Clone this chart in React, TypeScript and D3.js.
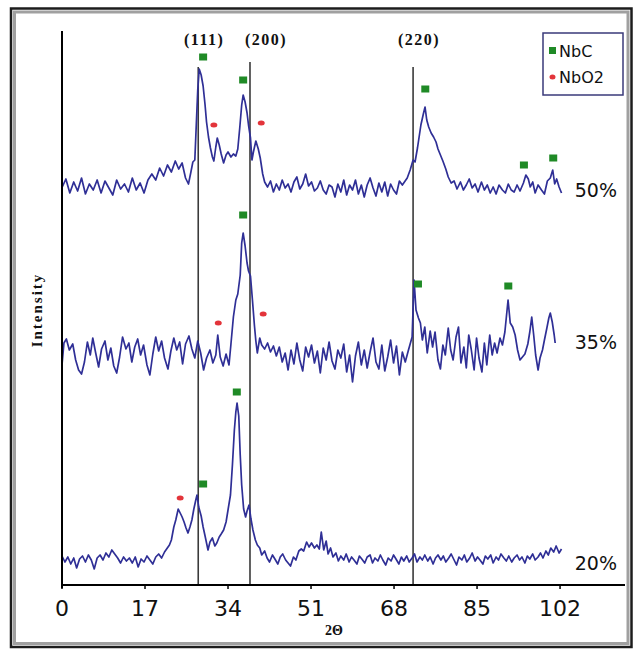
import React from "react";
import * as d3 from "d3";

const W = 640;
const H = 650;

const xTicks = [0, 17, 34, 51, 68, 85, 102];
const reflections = ["(111)", "(200)", "(220)"];
const reflectionX = [27.9, 38.5, 71.9];
const reflectionTop = [103.6, 104.6, 103.6];
const seriesLabels = ["50%", "35%", "20%"];
const labelLevel = [79, 48.6, 4.4];
const legendItems = ["NbC", "NbO2"];

const s50: [number, number][] = [
  [0,79.5],[0.8,81.2],[1.6,78.4],[2.4,80.6],[3.2,78.8],[4,81.4],[4.8,78.2],[5.6,80.2],[6.4,79],[7.2,81],
  [8,78.4],[8.8,80.8],[9.6,79.4],[10.4,78],[11.2,81],[12,79.2],[12.8,80.2],[13.6,78.6],[14.4,81.4],[15.2,79],
  [16,80.4],[16.8,78.4],[17.6,81],[18.4,82.2],[19.2,81],[20,83.4],[20.8,81.8],[21.6,84],[22.4,82.6],[23.2,84.8],
  [23.9,83.2],[24.6,84.4],[25.3,81.4],[25.9,80.2],[26.4,82.6],[26.8,84.6],[27.2,85],[27.5,92],[27.8,99],[28.1,103.2],
  [28.5,102],[28.9,99.8],[29.3,96],[29.6,92.6],[30,89.6],[30.4,87.4],[30.8,85.6],[31.1,84.8],[31.5,87.6],[31.8,89.4],
  [32.2,88],[32.6,86.2],[33.1,84.4],[33.6,86],[34,86.6],[34.6,85.6],[35.1,86.2],[35.6,85.8],[36,87.2],[36.4,91.4],
  [36.8,96],[37.1,98],[37.5,96.6],[37.9,94.4],[38.2,92],[38.6,89.4],[38.9,85],[39.2,86.6],[39.7,88.8],[40.2,87.2],
  [40.6,85.4],[41.1,82.2],[41.5,80.6],[42.1,79.6],
  [42.7,80.8],[43.3,78.6],[43.9,80.2],[44.5,79],[45.1,81],[45.7,79.4],[46.3,80.2],[46.9,78.6],[47.5,80.6],[48.1,81.6],
  [48.7,79.2],[49.3,80.2],[49.9,82.2],[50.5,79.8],[51.1,80.6],[51.7,78.8],[52.3,79.4],[52.9,80.8],[53.5,79],[54.1,78.2],
  [54.7,80],[55.3,79.6],[55.9,77.6],[56.5,80.2],[57.1,78.6],[57.7,81],[58.3,78],[58.9,80],[59.5,79],[60.1,81],
  [60.7,78.2],[61.3,80],[61.9,77.6],[62.5,80],[63.1,81.4],[63.7,79.4],[64.3,77.8],[64.9,80.4],[65.5,78.6],[66.1,80.6],
  [66.7,77.8],[67.3,80.2],[67.9,79],[68.5,78.2],[69.1,80.8],[69.7,80],
  [70.7,81.4],[71.3,83],[71.9,85],[72.3,84.6],[72.8,87.4],[73.5,92],[74,94.2],[74.35,95.6],[74.7,93],[75.1,91.6],
  [75.6,90.4],[76.1,89.6],[76.6,88.6],[77,87.2],[77.5,86],[78,84.8],[78.6,83.2],[79.1,81.6],[79.7,80.4],[80.3,80.8],
  [80.9,79.2],[81.6,80.6],[82.2,79],[82.8,80],[83.4,81.2],[84,79.4],[84.6,80.2],[85.2,78.6],[85.9,80.6],[86.5,79],
  [87.1,80],[87.7,78.4],[88.3,79.6],[88.9,78.2],[89.5,80],[90.2,79],[90.8,78.4],[91.4,80.2],[92,79],[92.6,78.6],
  [93.2,80],[93.8,78.8],[94.5,80.4],[95,82],[95.5,81.2],[95.9,79.6],[96.4,80.6],[96.9,78.4],[97.5,80],[98.2,79],
  [98.8,78.2],[99.4,80.8],[100,81.4],[100.5,83],[100.9,80.2],[101.3,81.2],[101.8,79.6],[102.3,78.4]
];

const s35: [number, number][] = [
  [0,44],[0.4,48.4],[0.9,49.2],[1.5,47],[2.2,48.2],[2.8,45],[3.4,43],[4,42.2],[4.6,44.6],[5.2,48.6],
  [5.8,46],[6.3,49.4],[6.9,46.4],[7.5,43.6],[8.1,47.2],[8.8,48.8],[9.4,45],[10,47.4],[10.6,43.8],[11.2,42.4],
  [11.8,45.6],[12.4,49.6],[13.1,47.2],[13.7,48.4],[14.3,44.6],[14.9,47.6],[15.5,49.2],[16.1,46],[16.7,48],[17.4,44],
  [18,42],[18.6,46.2],[19.2,49.6],[19.8,46.8],[20.4,48.8],[21,45.4],[21.7,43.2],[22.3,46.8],[22.9,49.4],[23.5,47],
  [24.1,48.6],[24.7,44.2],[25.3,48.2],[26,49.8],[26.6,47.2],[27.2,45.4],[27.8,48.8],[28.4,46.4],[29,43],[29.6,45.4],
  [30.3,47],[30.9,44.4],[31.5,46],[31.9,50],[32.4,45.6],[33,43.8],[33.6,46.2],[34.2,44],[34.6,48.2],[35.1,53.6],
  [35.6,57],[36,58.2],[36.5,62],[36.8,68.4],[37.1,70.4],[37.5,67.8],[37.9,64.4],[38.2,62.8],[38.6,61.8],[39,57],
  [39.4,52],[39.7,48.8],[40,46.4],[40.5,49.4],[40.9,48],[41.5,47.2],
  [42.1,48.4],[42.7,46.6],[43.3,47.8],[43.9,45.8],[44.5,47.6],[45.1,44.6],[45.7,46.4],[46.3,43],[46.9,47],[47.5,44.2],
  [48.1,48.4],[48.7,45],[49.3,42.8],[49.9,47.6],[50.5,45.6],[51.1,48],[51.7,44.4],[52.3,46.8],[52.9,42.4],[53.5,47.4],
  [54.1,45],[54.7,48.6],[55.3,44.8],[55.9,43.2],[56.5,47],[57.1,45.4],[57.7,48.2],[58.3,42.6],[58.9,46],[59.5,40.6],
  [60.1,45.8],[60.7,48.6],[61.3,44],[61.9,47],[62.5,43.4],[63.1,46.6],[63.7,49.4],[64.3,44.6],[64.9,43.2],[65.5,48],
  [66.1,42.8],[66.7,45.6],[67.3,49],[67.9,44.4],[68.5,47.8],[69.1,42],[69.7,46.6],[70.3,44.6],[70.9,46.8],
  [71.7,49.6],[72.1,61],[72.5,55],[73,53.4],[73.4,52.4],[73.8,49],
  [74.3,51.6],[74.8,46.4],[75.4,50.8],[75.9,47.6],[76.4,50.6],[77,45],[77.5,43.2],[78,48],[78.5,46],[79.1,51.4],
  [79.6,47],[80.1,45],[80.7,49.6],[81.2,51.6],[81.7,44.4],[82.3,47.6],[82.8,43.4],[83.3,50],[83.8,47.2],[84.4,43],
  [84.9,49.4],[85.4,45.4],[86,42.6],[86.5,48.4],[87,44],[87.6,50],[88.1,46],[88.6,48.4],[89.1,46.4],[89.7,49.4],
  [90.2,48],[90.7,50.6],
  [91.35,57],[91.8,52.4],[92.3,51.6],[92.8,50],[93.3,47],[93.8,45],[94.3,45.6],[94.8,46.2],[95.4,48.2],[95.8,50.6],
  [96.2,53.6],[96.6,50],[97,46],[97.5,43],[97.9,45.4],[98.4,47],[98.8,49],[99.3,51.4],[99.7,53.4],[100,54.4],
  [100.4,52.6],[100.8,50],[101,48.4]
];

const s20: [number, number][] = [
  [0,5.8],[0.6,4.6],[1.2,5.6],[1.8,4.2],[2.4,5.4],[3,3.4],[3.6,5.2],[4.2,5.8],[4.8,4.6],[5.4,6],
  [6,5],[6.6,3.2],[7.2,5.4],[7.8,6],[8.4,5],[9,6.4],[9.6,5.6],[10.2,7],[10.8,6.2],[11.4,5.4],
  [12,4.4],[12.6,5.6],[13.2,4.8],[13.8,5.4],[14.4,4.4],[15,5.6],[15.6,3.6],[16.2,5.2],[16.8,4.6],[17.4,5.8],
  [18,5],[18.6,4.2],[19.2,5.6],[19.8,6.2],[20.4,5.4],[21,6.6],
  [22,8],[22.4,9],[22.9,11.6],[23.3,13],[23.8,15.2],[24.2,14.4],[24.6,13.6],[25,12.6],[25.4,11.4],[25.8,10.4],
  [26.2,11.6],[26.6,13],[27,15.2],[27.4,17],[27.65,18],[28,15.6],[28.5,13.8],[28.9,11.6],[29.3,9.8],[29.9,7],
  [30.3,8.6],[30.8,9.4],[31.3,7.8],[31.7,8.4],[32.2,9.6],[32.6,10.2],[33.1,11],[33.6,12.6],[34,15],[34.5,18],
  [34.9,24],[35.3,31],[35.6,34.6],[35.85,36.4],[36.2,33.8],[36.5,26],[36.8,20],[37.2,15.2],[37.6,13.6],[37.9,14.8],
  [38.3,16],[38.7,13.2],[39.1,11],[39.6,9],[40,8],[40.5,7.4],[40.9,6],
  [41.5,6.8],[42,5.4],[42.5,4.6],[43.1,6],[43.6,5.2],[44.2,4.2],[44.7,5.6],[45.2,6.2],[45.8,5],[46.3,4.4],
  [46.8,3.8],[47.4,5.6],[47.9,5],[48.5,6.8],[49,7.2],[49.5,6.8],[50.1,8.6],[50.6,7.6],[51.1,8.4],[51.7,7.4],
  [52.2,8],[52.7,7.2],[53.1,10.6],[53.6,7],[54.1,8.8],[54.5,6.2],[55,7.4],[55.5,5.6],[56.1,6.4],[56.6,4.8],
  [57.1,5.8],[57.7,5],[58.2,6.2],[58.8,4.6],[59.3,5.6],[59.8,5],[60.4,4.2],[60.9,5.8],[61.4,5.2],[62,4.4],
  [62.5,5.6],[63.1,6],[63.6,4.4],[64.1,5.4],[64.7,4.8],[65.2,6],[65.7,5],[66.3,4],[66.8,5.4],[67.4,4.8],
  [67.9,6],[68.4,5.2],[69,4.2],[69.5,5.6],[70,4.8],[70.6,5.8],[71.1,4.6],[71.7,5.4],[72.2,6.2],[72.7,4.6],
  [73.3,5.6],[73.8,5],[74.3,6],[74.9,4.8],[75.4,5.6],[76,4.2],[76.5,5.4],[77,6],[77.6,5],[78.1,5.8],
  [78.6,4.6],[79.2,5.4],[79.7,6.2],[80.3,5],[80.8,4],[81.3,5.6],[81.9,5],[82.4,6],[82.9,4.6],[83.5,5.4],
  [84,6.4],[84.6,4.8],[85.1,5.6],[85.6,5],[86.2,4.2],[86.7,5.8],[87.2,5.2],[87.8,6],[88.3,4.4],[88.9,5.6],
  [89.4,5],[89.9,6.2],[90.5,5.4],[91,4.8],[91.5,5.8],[92.1,4.6],[92.6,5.4],[93.2,6],[93.7,5],[94.2,5.6],
  [94.8,4.4],[95.3,5.8],[95.8,5.2],[96.4,6.2],[96.9,5],[97.5,5.6],[98,6.4],[98.5,5.4],[99.1,6.8],[99.6,6],
  [100.1,7.4],[100.7,6.6],[101.2,7.8],[101.8,6.4],[102.3,7.2]
];

const seriesData = [s50, s35, s20];

const nbcMarks: [number, number][] = [
  [28.9,105.6],[37.1,101],[74.4,99.2],[94.6,84],[100.6,85.4],
  [37.1,74],[72.9,60.2],[91.4,59.8],
  [35.8,38.6],[28.9,20.2]
];
const nbo2Marks: [number, number][] = [
  [31.1,92],[40.8,92.4],
  [32,52.4],[41.2,54.2],
  [24.2,17.4]
];

const LINE = "#2f2f96";
const GREEN = "#1f8a26";
const RED = "#e3343a";
const SERIF = "'Liberation Serif', 'Times New Roman', serif";
const SANS = "'DejaVu Sans', Verdana, sans-serif";

export default function App() {
  const x = d3.scaleLinear().domain([0, 115.3]).range([62, 625]);
  const y = d3.scaleLinear().domain([0, 110.8]).range([585, 31]);
  const line = d3
    .line<[number, number]>()
    .x((d) => x(d[0]))
    .y((d) => y(d[1]))
    .curve(d3.curveLinear);

  return (
    <svg
      width={W}
      height={H}
      viewBox={`0 0 ${W} ${H}`}
      style={{ position: "absolute", left: 0, top: 0, background: "#fff" }}
    >
      <rect x={0} y={0} width={W} height={H} fill="#fff" />
      {/* frame */}
      <rect x={11} y={8.5} width={620.5} height={638.5} fill="none" stroke="#1c1c1c" strokeWidth={2.5} />
      <rect x={14.5} y={12} width={613.5} height={631.5} fill="none" stroke="#a0a0a0" strokeWidth={3} />

      {/* reflection lines */}
      {reflectionX.map((rx, i) => (
        <line
          key={"rl" + i}
          x1={x(rx)}
          x2={x(rx)}
          y1={y(reflectionTop[i])}
          y2={y(0)}
          stroke="#3a3a3a"
          strokeWidth={1.6}
        />
      ))}
      {reflections.map((t, i) => (
        <text
          key={"rt" + i}
          x={[x(reflectionX[0]) + 6, x(reflectionX[1]) + 16, x(reflectionX[2]) + 6][i]}
          y={45}
          textAnchor="middle"
          fontFamily={SERIF}
          fontWeight="bold"
          fontSize={16}
          letterSpacing={1.5}
          fill="#111"
        >
          {t}
        </text>
      ))}

      {/* series */}
      {seriesData.map((s, i) => (
        <path key={"s" + i} d={line(s) || ""} fill="none" stroke={LINE} strokeWidth={1.7} strokeLinejoin="round" />
      ))}

      {/* markers */}
      {nbcMarks.map((m, i) => (
        <rect key={"g" + i} x={x(m[0]) - 4} y={y(m[1]) - 3.5} width={8} height={7} fill={GREEN} />
      ))}
      {nbo2Marks.map((m, i) => (
        <ellipse key={"r" + i} cx={x(m[0])} cy={y(m[1])} rx={3.5} ry={2.5} fill={RED} />
      ))}

      {/* axes */}
      <line x1={x(0)} x2={x(0)} y1={y(110.8)} y2={y(0) + 3} stroke="#000" strokeWidth={2} />
      <line x1={x(0)} x2={x(115.3)} y1={y(0)} y2={y(0)} stroke="#000" strokeWidth={2} />
      {xTicks.map((t) => (
        <g key={"t" + t}>
          <line x1={x(t)} x2={x(t)} y1={y(0)} y2={y(0) + 4} stroke="#000" strokeWidth={1.5} />
          <text x={x(t)} y={y(0) + 31} textAnchor="middle" fontFamily={SANS} fontSize={22} fill="#111">
            {t}
          </text>
        </g>
      ))}
      <text x={334} y={635} textAnchor="middle" fontFamily={SERIF} fontWeight="bold" fontSize={14} fill="#111">
        2Θ
      </text>
      <text
        transform={`translate(42, 310) rotate(-90)`}
        textAnchor="middle"
        fontFamily={SERIF}
        fontWeight="bold"
        fontSize={15}
        letterSpacing={2}
        fill="#111"
      >
        Intensity
      </text>

      {/* series labels */}
      {seriesLabels.map((t, i) => (
        <text
          key={"sl" + i}
          x={x(105)}
          y={y(labelLevel[i])}
          dy="0.36em"
          fontFamily={SANS}
          fontSize={19}
          fill="#111"
        >
          {t}
        </text>
      ))}

      {/* legend */}
      <rect x={543} y={33} width={80} height={62} fill="#fff" stroke="#3a3a7a" strokeWidth={1.5} />
      <rect x={549} y={47} width={7} height={7} fill={GREEN} />
      <text x={559} y={57} fontFamily={SANS} fontSize={16} fill="#111">
        {legendItems[0]}
      </text>
      <ellipse cx={552.5} cy={77} rx={3} ry={2.5} fill={RED} />
      <text x={559} y={83} fontFamily={SANS} fontSize={16} fill="#111">
        {legendItems[1]}
      </text>
    </svg>
  );
}
